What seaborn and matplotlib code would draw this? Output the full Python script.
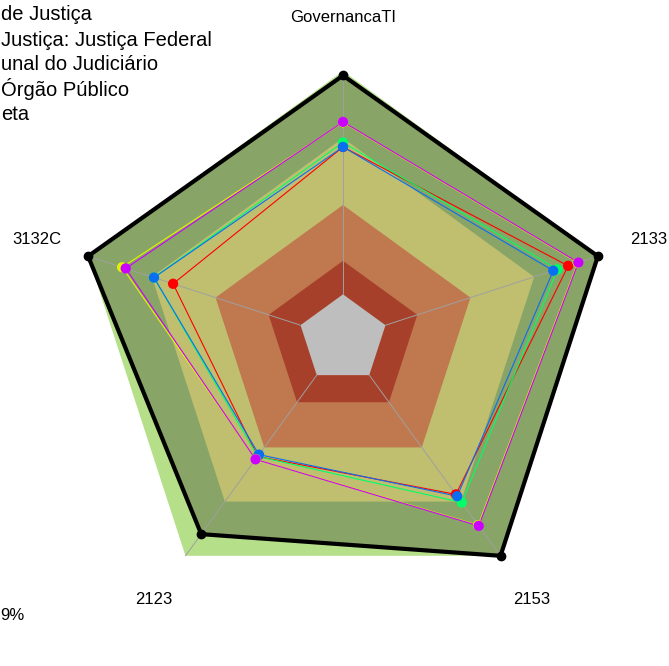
import numpy as np
import pandas as pd
import matplotlib
matplotlib.use("Agg")
import matplotlib.pyplot as plt
import seaborn as sns

sns.set_theme(style="white")
plt.rcParams['font.family'] = ['Liberation Sans', 'DejaVu Sans']
plt.rcParams['text.color'] = 'black'

# eixos do radar (sentido horario a partir do topo)
eixos = ['GovernancaTI', '2133', '2153', '2123', '3132C']

# faixas de nivel (0-15, 15-40, 40-70, 70-100 %)
faixas = [1.00, 0.70, 0.40, 0.15]
cores_faixas = ['#B5DF89', '#BFBF6F', '#C0784F', '#A7402A']

# series (fracao de 0 a 1)
meta = [0.98, 1.00, 1.00, 0.88, 1.00]
segmento = [0.66, 0.86, 0.66, 0.45, 0.60]
ramo = [0.66, 0.79, 0.67, 0.44, 0.69]
tribunal = [0.68, 0.81, 0.705, 0.45, 0.69]
outro = [0.77, 0.905, 0.83, 0.465, 0.84]
orgao = [0.772, 0.908, 0.834, 0.466, 0.823]

series = {
    'Segmento de Justiça': segmento,
    'Tribunal do Judiciário': tribunal,
    'Ramo de Justiça: Justiça Federal': ramo,
    'Média': outro,
    'Órgão Público': orgao,
}
cores = {
    'Segmento de Justiça': '#FF0000',
    'Tribunal do Judiciário': '#00FF66',
    'Ramo de Justiça: Justiça Federal': '#0A6EF0',
    'Média': '#DDF500',
    'Órgão Público': '#CC00FF',
}

# texto da legenda como aparece (cortado na borda esquerda do original)
legenda = ['de Justiça', 'Justiça: Justiça Federal',
           'unal do Judiciário', 'Órgão Público', 'eta']
nota = '9%'

SEG = 5
angulos = np.deg2rad(90 - 72 * np.arange(len(eixos)))


def raio(v):
    # escala do fmsb: centro vazio de 1/(seg+1)
    return 1 / (SEG + 1) + np.asarray(v) * SEG / (SEG + 1)


def xy(valores, fechar=True):
    r = raio(valores)
    x = r * np.cos(angulos)
    y = r * np.sin(angulos)
    if fechar:
        x = np.append(x, x[0])
        y = np.append(y, y[0])
    return x, y


fig = plt.figure(figsize=(6.69, 6.66), dpi=100)
ax = fig.add_axes([0, 0, 1, 1])
ax.set_xlim(-343 / 268, (669 - 343) / 268)
ax.set_ylim(-(666 - 339) / 268, 339 / 268)
ax.set_aspect('equal')
ax.axis('off')

# faixa externa, area da meta e faixas internas
x, y = xy([faixas[0]] * 5)
ax.fill(x, y, color=cores_faixas[0], lw=0)
x, y = xy(meta)
ax.fill(x, y, color='#88A466', lw=0)
for f, c in zip(faixas[1:], cores_faixas[1:]):
    x, y = xy([f] * 5)
    ax.fill(x, y, color=c, lw=0)
x, y = xy([0] * 5)
ax.fill(x, y, color='#BEBEBE', lw=0)

# raios
for a in angulos:
    ax.plot([raio(0) * np.cos(a), np.cos(a)], [raio(0) * np.sin(a), np.sin(a)],
            color='#A0A0A0', lw=0.7, zorder=2)

linhas = []
pontos = []
for nome, vals in series.items():
    x, y = xy(vals)
    linhas.append(pd.DataFrame({'x': x, 'y': y, 'serie': nome}))
    pontos.append(pd.DataFrame({'x': x[:-1], 'y': y[:-1], 'serie': nome}))
linhas = pd.concat(linhas)
pontos = pd.concat(pontos)

for nome in series:
    d = linhas[linhas['serie'] == nome]
    sns.lineplot(data=d, x='x', y='y', sort=False, estimator=None,
                 color=cores[nome], lw=0.8, ax=ax, zorder=3)
sns.scatterplot(data=pontos, x='x', y='y', hue='serie', palette=cores,
                s=55, linewidth=0, legend=False, ax=ax, zorder=4)

x, y = xy(meta)
ax.plot(x, y, color='black', lw=3, zorder=5, solid_joinstyle='miter')
ax.scatter(x[:-1], y[:-1], color='black', s=36, zorder=6)

# rotulos dos eixos
for nome, a in zip(eixos, angulos):
    ax.text(1.2 * np.cos(a), 1.2 * np.sin(a), nome, ha='center', va='center',
            fontsize=12, color='black')

# legenda encostada na borda esquerda
linhas_y = [15, 40, 64, 89, 115]
for txt, yf in zip(legenda, linhas_y):
    fig.text(1 / 669, 1 - yf / 666, txt, ha='left', va='center',
             fontsize=14.5, color='black')

fig.text(0 / 669, 1 - 616 / 666, nota, ha='left', va='center',
         fontsize=12, color='black')

fig.savefig('out.png', dpi=100)
